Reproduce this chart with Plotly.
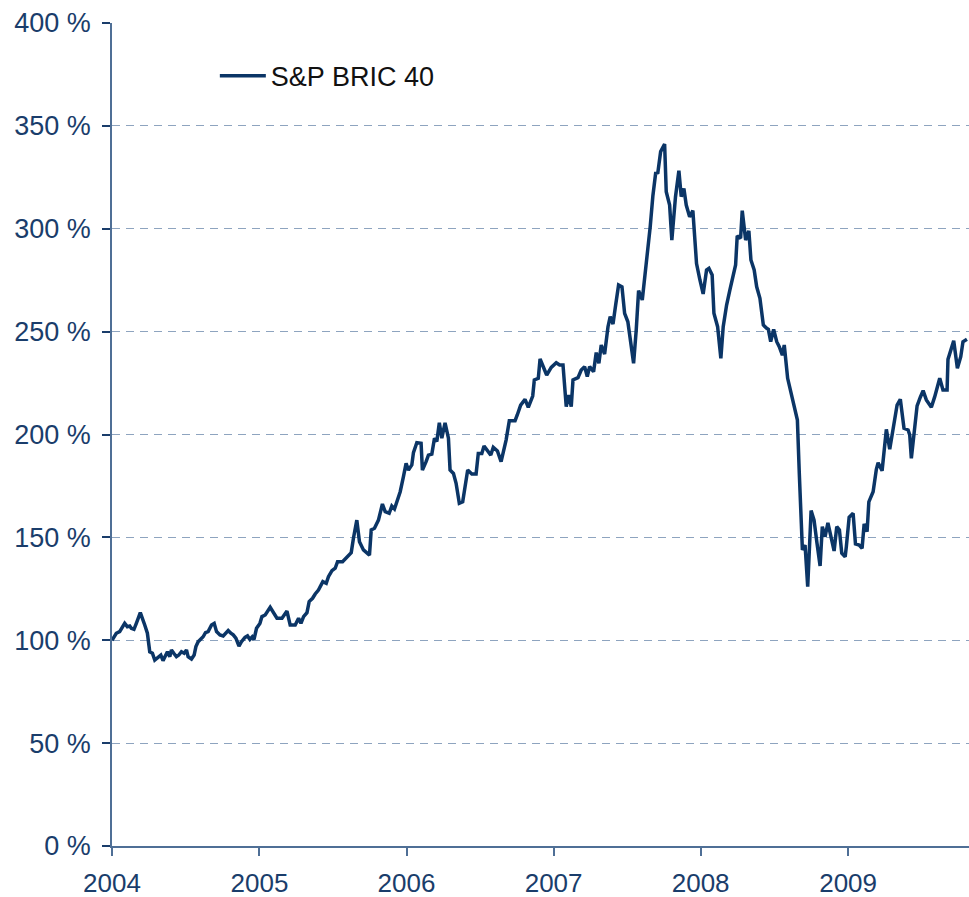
"""
S&P BRIC 40 performance since 2004, indexed to 100 %.
Weekly-ish readings taken off the original chart.
"""

import pandas as pd
import plotly.graph_objects as go

# decimal years (2004.0 = 1 Jan 2004)
YEARS = [
    2004.000, 2004.029, 2004.052, 2004.086, 2004.104, 2004.120, 2004.131, 2004.149, 2004.165, 2004.192,
    2004.222, 2004.240, 2004.256, 2004.274, 2004.290, 2004.313, 2004.331, 2004.346, 2004.362, 2004.376,
    2004.392, 2004.403, 2004.419, 2004.437, 2004.453, 2004.471, 2004.489, 2004.505, 2004.516, 2004.539,
    2004.557, 2004.569, 2004.584, 2004.603, 2004.618, 2004.634, 2004.652, 2004.675, 2004.693, 2004.709,
    2004.732, 2004.754, 2004.770, 2004.788, 2004.806, 2004.822, 2004.840, 2004.861, 2004.878, 2004.902,
    2004.919, 2004.935, 2004.951, 2004.963, 2004.980, 2005.003, 2005.017, 2005.039, 2005.073, 2005.096,
    2005.119, 2005.153, 2005.187, 2005.209, 2005.243, 2005.266, 2005.282, 2005.300, 2005.323, 2005.338,
    2005.361, 2005.379, 2005.401, 2005.431, 2005.454, 2005.469, 2005.493, 2005.515, 2005.531, 2005.565,
    2005.594, 2005.624, 2005.639, 2005.662, 2005.680, 2005.707, 2005.748, 2005.760, 2005.782, 2005.809,
    2005.836, 2005.855, 2005.882, 2005.900, 2005.918, 2005.941, 2005.957, 2005.979, 2005.997, 2006.013,
    2006.036, 2006.047, 2006.070, 2006.099, 2006.108, 2006.133, 2006.149, 2006.172, 2006.190, 2006.206,
    2006.223, 2006.240, 2006.262, 2006.285, 2006.296, 2006.319, 2006.337, 2006.359, 2006.382, 2006.398,
    2006.416, 2006.444, 2006.473, 2006.488, 2006.512, 2006.527, 2006.550, 2006.573, 2006.590, 2006.618,
    2006.643, 2006.658, 2006.677, 2006.699, 2006.738, 2006.753, 2006.776, 2006.806, 2006.828, 2006.858,
    2006.869, 2006.896, 2006.908, 2006.953, 2006.984, 2007.018, 2007.041, 2007.064, 2007.086, 2007.103,
    2007.120, 2007.132, 2007.166, 2007.188, 2007.211, 2007.229, 2007.245, 2007.272, 2007.290, 2007.308,
    2007.324, 2007.347, 2007.370, 2007.385, 2007.404, 2007.422, 2007.442, 2007.465, 2007.483, 2007.505,
    2007.524, 2007.544, 2007.562, 2007.578, 2007.603, 2007.619, 2007.637, 2007.657, 2007.675, 2007.694,
    2007.709, 2007.728, 2007.755, 2007.766, 2007.789, 2007.804, 2007.829, 2007.852, 2007.868, 2007.886,
    2007.902, 2007.925, 2007.947, 2007.972, 2007.995, 2008.017, 2008.040, 2008.056, 2008.078, 2008.090,
    2008.115, 2008.137, 2008.153, 2008.176, 2008.198, 2008.221, 2008.237, 2008.248, 2008.271, 2008.282,
    2008.305, 2008.327, 2008.341, 2008.363, 2008.380, 2008.402, 2008.425, 2008.448, 2008.459, 2008.475,
    2008.495, 2008.516, 2008.533, 2008.554, 2008.567, 2008.590, 2008.618, 2008.635, 2008.656, 2008.669,
    2008.690, 2008.708, 2008.726, 2008.749, 2008.769, 2008.789, 2008.810, 2008.825, 2008.844, 2008.863,
    2008.885, 2008.905, 2008.923, 2008.941, 2008.957, 2008.980, 2008.988, 2009.007, 2009.034, 2009.050,
    2009.075, 2009.095, 2009.109, 2009.129, 2009.141, 2009.170, 2009.192, 2009.204, 2009.231, 2009.260,
    2009.283, 2009.306, 2009.333, 2009.355, 2009.380, 2009.408, 2009.419, 2009.430, 2009.448, 2009.469,
    2009.491, 2009.510, 2009.532, 2009.566, 2009.589, 2009.623, 2009.645, 2009.673, 2009.679, 2009.718,
    2009.743, 2009.766, 2009.781, 2009.808,
]

# index level in %
BRIC40 = [
    100.0, 103.4, 104.2, 108.2, 106.6, 106.9, 105.8, 105.3, 108.2, 113.4,
    107.4, 103.4, 94.4, 93.7, 90.4, 92.0, 92.8, 90.1, 92.8, 94.4,
    92.0, 95.3, 93.7, 92.0, 92.8, 94.4, 93.7, 95.3, 92.0, 90.9,
    92.8, 96.9, 99.3, 100.4, 101.7, 103.7, 104.2, 107.4, 108.2, 104.2,
    102.6, 102.1, 103.4, 104.7, 103.4, 102.6, 101.0, 97.2, 99.3, 101.4,
    102.1, 100.4, 101.7, 100.4, 105.8, 108.2, 111.5, 112.3, 116.0, 113.1,
    110.7, 110.7, 114.2, 107.4, 107.4, 110.7, 108.2, 111.5, 113.4, 118.8,
    120.4, 122.5, 124.4, 128.5, 127.7, 130.9, 133.8, 135.0, 138.2, 138.2,
    140.6, 142.6, 149.6, 158.4, 147.9, 143.9, 141.4, 153.6, 154.4, 158.4,
    166.2, 162.5, 161.7, 165.2, 163.8, 168.2, 172.2, 179.5, 186.0, 182.7,
    185.2, 191.2, 196.0, 195.7, 182.7, 186.8, 190.0, 190.5, 198.2, 196.6,
    205.7, 198.2, 205.7, 198.2, 182.7, 181.1, 176.3, 166.6, 167.3, 174.6,
    182.7, 180.8, 180.8, 190.8, 190.8, 194.4, 192.1, 190.0, 193.8, 192.0,
    186.8, 190.8, 197.3, 206.7, 206.7, 209.5, 214.3, 217.1, 213.2, 218.7,
    226.5, 227.3, 236.7, 228.9, 232.6, 234.9, 233.8, 233.8, 213.5, 219.2,
    213.5, 226.5, 227.6, 231.3, 233.0, 228.1, 233.0, 230.5, 239.8, 234.6,
    243.5, 239.1, 252.4, 257.3, 253.7, 262.9, 272.7, 271.8, 258.9, 254.8,
    245.9, 234.6, 250.8, 269.9, 265.4, 275.1, 285.9, 301.0, 315.9, 327.0,
    327.3, 337.5, 341.2, 318.0, 311.5, 294.5, 315.6, 328.2, 315.6, 319.6,
    311.5, 305.8, 308.8, 283.1, 275.1, 268.3, 280.0, 280.8, 277.5, 258.9,
    252.4, 237.0, 252.4, 262.9, 270.2, 277.5, 282.4, 296.5, 295.4, 308.8,
    294.5, 299.0, 284.8, 280.0, 271.8, 266.2, 253.2, 251.6, 251.1, 245.1,
    251.1, 245.1, 242.7, 238.6, 243.5, 227.3, 219.2, 213.5, 207.0, 181.1,
    143.9, 146.3, 126.0, 163.0, 158.4, 147.1, 136.1, 155.2, 150.3, 157.1,
    150.3, 143.4, 155.2, 153.6, 142.3, 140.6, 145.5, 159.8, 161.7, 146.8,
    146.3, 144.7, 156.5, 152.8, 167.3, 172.2, 183.1, 186.3, 182.4, 202.5,
    192.8, 203.0, 214.3, 217.1, 203.0, 202.2, 199.8, 188.4, 199.8, 213.9,
    218.1, 221.3, 216.8, 213.2, 218.4, 227.3, 221.6, 221.6, 236.5, 245.6,
    232.2, 237.8, 245.1, 246.3,
]

Y_TICKS = [0, 50, 100, 150, 200, 250, 300, 350, 400]
Y_LABELS = [f"{v} %" for v in Y_TICKS]
X_YEARS = [2004, 2005, 2006, 2007, 2008, 2009]
SERIES_NAME = "S&P BRIC 40"

NAVY = "#0b3566"
TICK_BLUE = "#1a3d6b"
AXIS_BLUE = "#4f6f96"
GRID_BLUE = "#8ea4bf"
FONT = "Liberation Sans, Arial, sans-serif"


def to_date(y):
    start = pd.Timestamp(int(y), 1, 1)
    days = (pd.Timestamp(int(y) + 1, 1, 1) - start).days
    return start + pd.Timedelta(days=(y - int(y)) * days)


dates = [to_date(y) for y in YEARS]

fig = go.Figure()
fig.add_trace(go.Scatter(
    x=dates, y=BRIC40, mode="lines", name=SERIES_NAME,
    line=dict(color=NAVY, width=3.5),
))

fig.update_layout(
    width=969, height=897,
    margin=dict(l=112, r=0, t=23, b=51, autoexpand=False),
    plot_bgcolor="white", paper_bgcolor="white",
    font=dict(family=FONT, size=27, color=TICK_BLUE),
    showlegend=True,
    legend=dict(
        x=0.120, y=0.965, xanchor="left", yanchor="top",
        font=dict(size=27, color="#111111"),
        itemwidth=46,
        bgcolor="rgba(0,0,0,0)",
    ),
)

fig.update_xaxes(
    type="date",
    range=[to_date(2004.0), to_date(2009.822)],
    tickvals=[pd.Timestamp(y, 1, 1) for y in X_YEARS],
    ticktext=[str(y) for y in X_YEARS],
    tickfont=dict(size=26),
    showgrid=False, zeroline=False, automargin=False,
    showline=True, linecolor=AXIS_BLUE, linewidth=1.5,
    ticks="outside", ticklen=8, tickcolor=AXIS_BLUE, tickwidth=1.5,
    ticklabelstandoff=5,
)

fig.update_yaxes(
    range=[0, 400],
    tickvals=Y_TICKS, ticktext=Y_LABELS,
    showgrid=True, gridcolor=GRID_BLUE, gridwidth=1, griddash="8px,6px",
    zeroline=False, automargin=False,
    showline=True, linecolor=AXIS_BLUE, linewidth=1.5,
    ticks="outside", ticklen=8, tickcolor=TICK_BLUE, tickwidth=1.5,
    ticklabelstandoff=6,
)

# drop the default page margin so the figure fills the window exactly
fig.write_html(
    "out.html",
    config={"displayModeBar": False},
    post_script="document.body.style.margin='0';document.body.style.overflow='hidden';",
)
